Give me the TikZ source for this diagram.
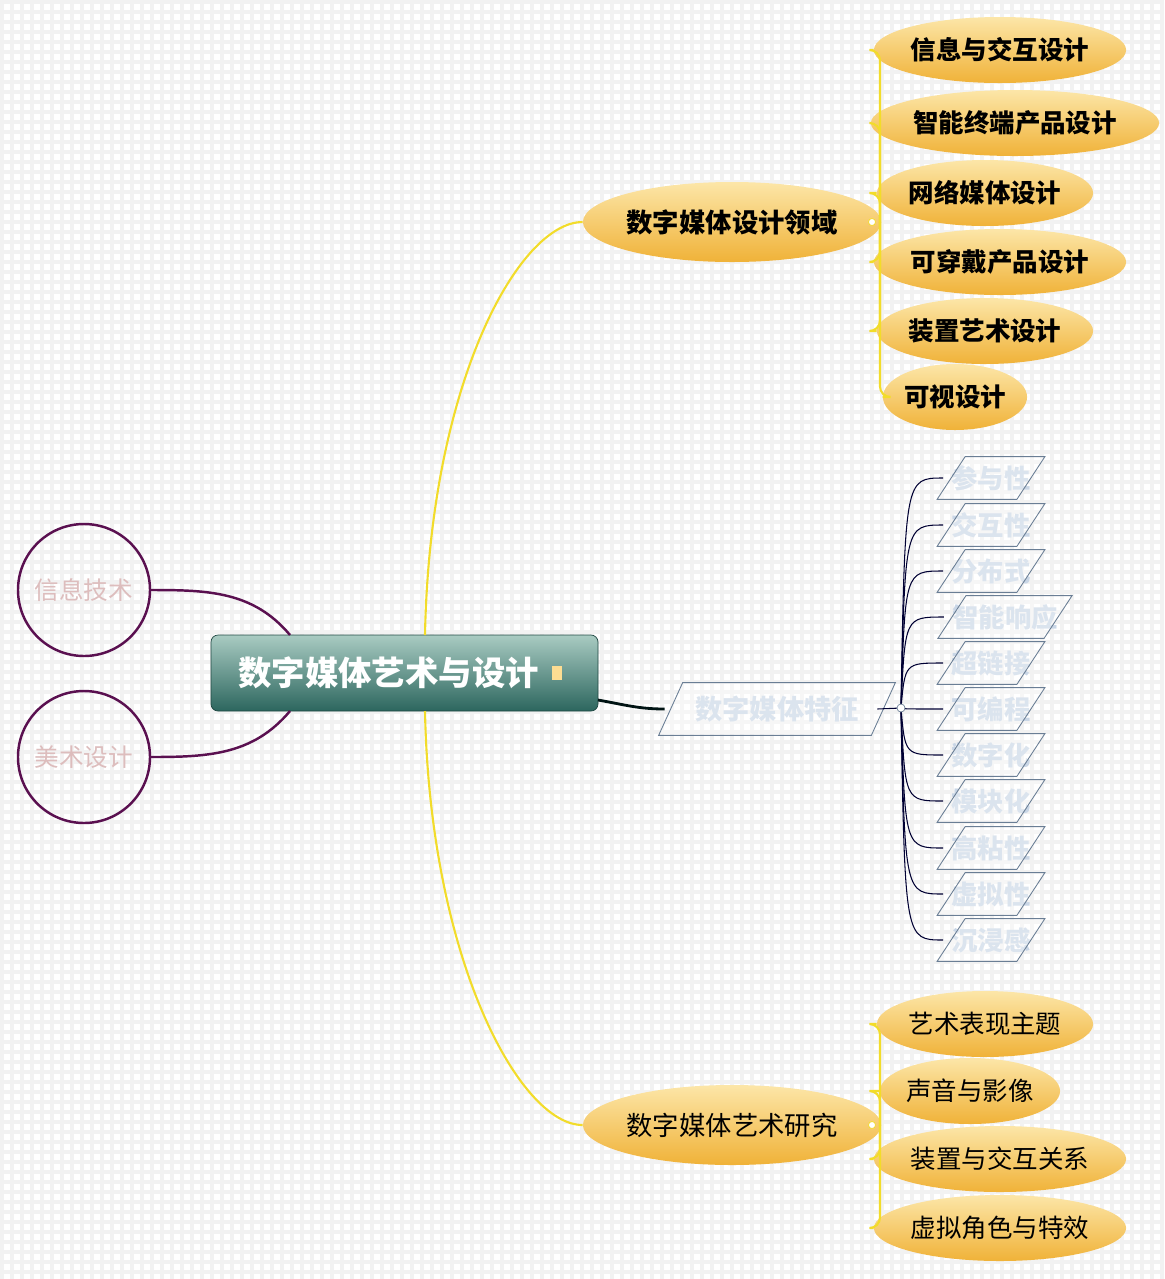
\documentclass[tikz,border=0pt]{standalone}
\usepackage{fontspec}
\setmainfont{Noto Sans CJK SC}
\usetikzlibrary{shapes.geometric,calc}
\definecolor{featc}{HTML}{C9D6E6}
\definecolor{featline}{HTML}{6A7E95}
\definecolor{orl}{HTML}{FCE6A8}
\definecolor{ord}{HTML}{F0B238}
\definecolor{ylw}{HTML}{F2DC2A}
\definecolor{purp}{HTML}{5A1050}
\definecolor{pinkt}{HTML}{DDBDBD}
\definecolor{tealt}{HTML}{A9CBC2}
\definecolor{teald}{HTML}{2C665E}
\tikzset{
 orb/.style={ellipse,shading=axis,top color=orl,bottom color=ord,draw=none,inner sep=0pt,minimum height=66*0.02cm,text=black},
 orbig/.style={orb,minimum width=268*0.02cm,minimum height=80*0.02cm},
 featbox/.style={inner sep=0pt,minimum height=42*0.02cm,text=featc,font=\fontsize{15}{15}\selectfont\bfseries},
 ylwline/.style={draw=ylw,line width=1.2pt},
 featconn/.style={draw=black!80!blue,line width=0.6pt},
 circ/.style={circle,draw=purp,line width=1.4pt,minimum size=132*0.02cm,text=pinkt,font=\fontsize{14}{14}\selectfont},
}
\newcommand{\paraof}[2]{\draw[draw=featline,line width=0.5pt,fill=white,fill opacity=0.35] ($(#1.south west)+(-#2,0)$) -- ($(#1.north west)+(#2,0)$) -- ($(#1.north east)+(#2,0)$) -- ($(#1.south east)+(-#2,0)$) -- cycle;}
\begin{document}
\begin{tikzpicture}[x=0.02cm,y=-0.02cm]
\useasboundingbox (0,0) rectangle (1164,1279);
\fill[white] (0,0) rectangle (1164,1279);
\foreach \i in {0,...,116}{\fill[black!5] (\i*10,0) rectangle (\i*10+4,1279);}
\foreach \j in {0,...,127}{\fill[black!5] (0,\j*10) rectangle (1164,\j*10+4);}
% center
\node[draw=teald!70!black,line width=0.4pt,rounded corners=4pt,shading=axis,top color=tealt,bottom color=teald,minimum width=387*0.02cm,minimum height=76*0.02cm,text=white,font=\fontsize{19}{19}\selectfont\bfseries] (c) at (404.5,673) {\hspace*{-18pt}数字媒体艺术与设计};
\fill[yellow!40!orange!40] (552,666) rectangle (562,680);
% circles
\node[circ] (it) at (84,590) {信息技术};
\node[circ] (ad) at (84,757) {美术设计};
\draw[purp,line width=1.4pt] (it.east) to[out=0,in=130] (290,635);
\draw[purp,line width=1.4pt] (ad.east) to[out=0,in=-130] (290,711);
% main branches
\node[orbig,font=\fontsize{15}{15}\selectfont\bfseries] (d1) at (732,222) {数字媒体设计领域};
\node[orbig,font=\fontsize{15}{15}\selectfont] (d3) at (732,1125) {数字媒体艺术研究};
\coordinate (cy1) at (425,635);
\coordinate (cy2) at (425,711);
\draw[ylwline] (cy1) .. controls (430,380) and (520,222) .. (d1.west);
\draw[ylwline] (cy2) .. controls (430,960) and (520,1125) .. (d3.west);
% top children
\foreach \n/\x/\y/\w/\t in {a1/1000/50/230/信息与交互设计,a2/1015/123/262/智能终端产品设计,a3/985/193/200/网络媒体设计,a4/1000/262/230/可穿戴产品设计,a5/985/331/200/装置艺术设计,a6/955/397/140/可视设计}{
 \node[orb,minimum width=\w*0.02cm,font=\fontsize{14.5}{14.5}\selectfont\bfseries] (\n) at (\x,\y) {\t};
}
\coordinate (j1) at (880,222);
\draw[ylwline] (d1.east) -- (j1);
\foreach \n in {a1,a2,a3,a4,a5,a6}{\draw[ylwline,rounded corners=6pt] (j1) |- (\n.west);}
\draw[ylw,fill=white] (872,222) circle (3.5);
% bottom children
\foreach \n/\x/\y/\w/\t in {b1/985/1024/200/艺术表现主题,b2/970/1091/170/声音与影像,b3/1000/1159/230/装置与交互关系,b4/1000/1228/230/虚拟角色与特效}{
 \node[orb,minimum width=\w*0.02cm,font=\fontsize{14.5}{14.5}\selectfont] (\n) at (\x,\y) {\t};
}
\coordinate (j3) at (880,1125);
\draw[ylwline] (d3.east) -- (j3);
\foreach \n in {b1,b2,b3,b4}{\draw[ylwline,rounded corners=6pt] (j3) |- (\n.west);}
\draw[ylw,fill=white] (872,1125) circle (3.5);
% features
\node[featbox,minimum width=212*0.02cm,minimum height=52*0.02cm,font=\fontsize{15.5}{15.5}\selectfont\bfseries] (f) at (777,709) {数字媒体特征};
\paraof{f}{0.24cm}
\draw[black!85!teal,line width=1.6pt] (598,700) to[out=-10,in=180] ($(f.west)+(-6,0)$);
\coordinate (fj) at (901,708);
\foreach \n/\y/\w/\t in {g1/478/118/参与性,g2/525/118/交互性,g3/571/118/分布式,g4/617/146/智能响应,g5/663/118/超链接,g6/709/118/可编程,g7/755/118/数字化,g8/801/118/模块化,g9/848/118/高粘性,g10/894/118/虚拟性,g11/940/118/沉浸感}{
 \node[featbox] (\n) at (932+\w/2,\y) {\t};
 \paraof{\n}{0.28cm}
 \draw[featconn] (fj) .. controls (905,\y) .. ($(\n.west)+(-8,0)$);
}
\draw[featconn] ($(f.east)+(-6,0)$) -- (fj);
\draw[featline,fill=white] (fj) circle (4);
\end{tikzpicture}
\end{document}
